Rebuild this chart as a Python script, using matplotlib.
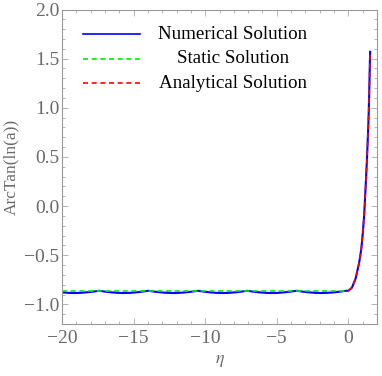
import matplotlib
matplotlib.use("Agg")
import matplotlib.pyplot as plt
from matplotlib.ticker import MultipleLocator, FuncFormatter

# flat (oscillating) part of the numerical solution
eta_osc = [-20.0 + 0.43125 * i for i in range(47)]
num_osc = [-0.878, -0.883, -0.885, -0.883, -0.878, -0.871,
           -0.862, -0.871, -0.878, -0.883, -0.885, -0.883, -0.878, -0.871,
           -0.862, -0.871, -0.878, -0.883, -0.885, -0.883, -0.878, -0.871,
           -0.862, -0.871, -0.878, -0.883, -0.885, -0.883, -0.878, -0.871,
           -0.862, -0.871, -0.878, -0.883, -0.885, -0.883, -0.878, -0.871,
           -0.862, -0.871, -0.878, -0.883, -0.885, -0.883, -0.878, -0.871,
           -0.862]

# rising part (eta > 0)
eta_rise = [0.0, 0.25, 0.5, 0.75, 0.9, 1.0, 1.1, 1.2, 1.3, 1.4, 1.45, 1.5, 1.52]
val_rise = [-0.862, -0.83, -0.74, -0.58, -0.44, -0.29, -0.10, 0.18, 0.48, 0.85, 1.10, 1.45, 1.57]

eta_static = [-20.0, 0.0]
val_static = [-0.862, -0.862]

eta_num = eta_osc + eta_rise
val_num = num_osc + val_rise

plt.rcParams['font.family'] = ['Liberation Serif', 'DejaVu Serif']
plt.rcParams['mathtext.fontset'] = 'stix'

gray = '#6a6a6a'
fig = plt.figure(figsize=(3.82, 3.76), dpi=100)
ax = fig.add_axes([62 / 382, 1 - 324 / 376, 315 / 382, 314.5 / 376])

ax.plot(eta_num, val_num, color='#0000ff', lw=1.5)
ax.plot(eta_static, val_static, color='#00ee00', lw=1.2, dashes=(3, 2.2))
ax.plot(eta_rise, val_rise, color='#ff0000', lw=1.2, dashes=(3, 2.2))

ax.set_xlim(-20, 2)
ax.set_ylim(-1.2, 2.0)

ax.xaxis.set_major_locator(MultipleLocator(5))
ax.xaxis.set_minor_locator(MultipleLocator(1))
ax.yaxis.set_major_locator(MultipleLocator(0.5))
ax.yaxis.set_minor_locator(MultipleLocator(0.1))

def fmt_x(v, pos):
    return ('\u2212' + '%d' % abs(v)) if v < 0 else '%d' % v

def fmt_y(v, pos):
    return ('\u2212' + '%.1f' % abs(v)) if v < -1e-9 else '%.1f' % abs(v)

ax.xaxis.set_major_formatter(FuncFormatter(fmt_x))
ax.yaxis.set_major_formatter(FuncFormatter(fmt_y))

ax.tick_params(which='both', direction='in', top=True, right=True,
               color='#aaaaaa', labelcolor=gray, labelsize=14, width=0.6)
ax.tick_params(which='major', length=4)
ax.tick_params(axis='y', which='major', pad=2)
ax.tick_params(axis='x', which='major', pad=4)
ax.tick_params(which='minor', length=2)
for s in ax.spines.values():
    s.set_color('#999999')
    s.set_linewidth(0.8)

ax.set_xlabel(r'$\eta$', color=gray, fontsize=13, labelpad=4)
ax.set_ylabel('ArcTan(ln(a))', color=gray, fontsize=12.5, labelpad=3)

# legend in the Mathematica style (centered text)
leg_rows = [('Numerical Solution', '#0000ff', None),
            ('Static Solution', '#00ee00', (3, 2.2)),
            ('Analytical Solution', '#ff0000', (3, 2.2))]
for i, (txt, col, ds) in enumerate(leg_rows):
    y = 1 - (34.3 + 24.5 * i - 9.5) / 314.5
    if ds is None:
        ax.plot([(83 - 62) / 315, (140 - 62) / 315], [y, y], color=col, lw=1.2,
                transform=ax.transAxes)
    else:
        ax.plot([(83 - 62) / 315, (140 - 62) / 315], [y, y], color=col, lw=1.2,
                dashes=ds, transform=ax.transAxes)
    ax.text((233 - 62) / 315, y, txt, transform=ax.transAxes, ha='center',
            va='center', fontsize=13.7, color='black')

fig.savefig('out.png', dpi=100)
